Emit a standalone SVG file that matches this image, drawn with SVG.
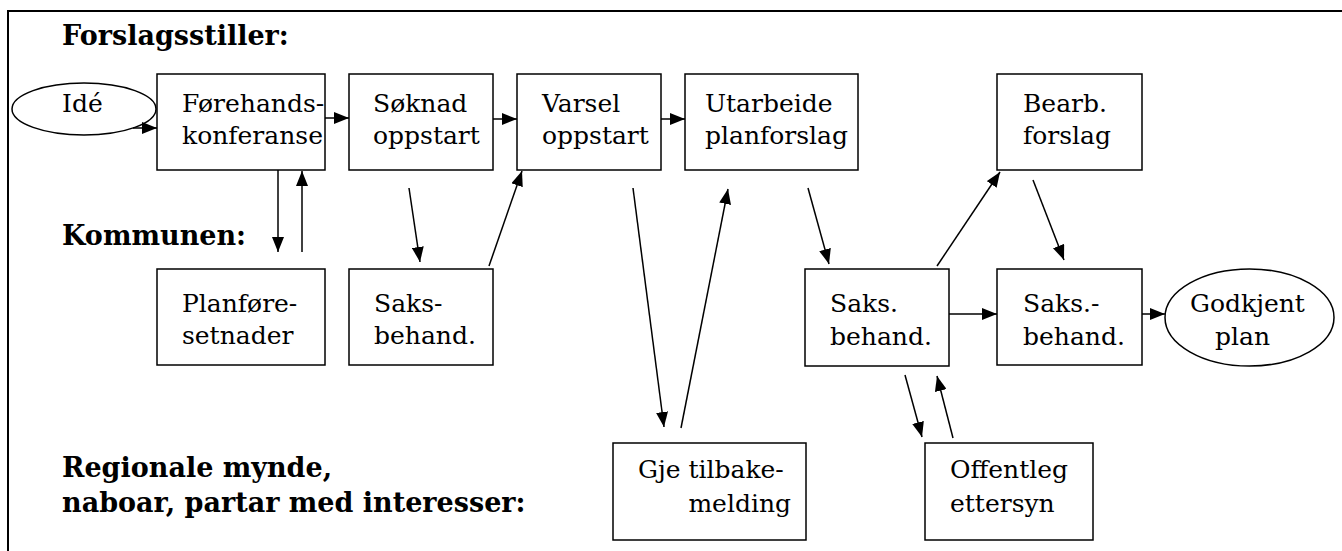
<svg xmlns="http://www.w3.org/2000/svg" width="1342" height="551" viewBox="0 0 1342 551">
<style>
.box{fill:#fff;stroke:#000;stroke-width:1.5}
.t{font-family:"DejaVu Serif","Liberation Serif",serif;font-size:25px;fill:#000}
.h{font-family:"DejaVu Serif","Liberation Serif",serif;font-size:27px;font-weight:bold;fill:#000}
.c{stroke:#000;stroke-width:1.5;fill:none;marker-end:url(#ah)}
</style>
<defs>
<marker id="ah" markerUnits="userSpaceOnUse" markerWidth="15" markerHeight="12" refX="15" refY="6" orient="auto">
<path d="M0,0 L15,6 L0,12 z" fill="#000"/>
</marker>
</defs>
<rect width="1342" height="551" fill="#fff"/>
<path d="M8,551 V11 H1342" fill="none" stroke="#000" stroke-width="2"/>
<g id="lanes">
<text class="h" x="62" y="45">Forslagsstiller:</text>
<text class="h" x="62" y="245">Kommunen:</text>
<text class="h" x="62" y="477">Regionale mynde,</text>
<text class="h" x="62" y="512">naboar, partar med interesser:</text>
</g>
<g id="ide"><ellipse class="box" cx="84" cy="109" rx="72" ry="26"/><text class="t" x="62" y="112">Idé</text></g>
<g id="forehands"><rect class="box" x="157" y="74" width="168" height="96"/><text class="t" x="182" y="112">Førehands-</text><text class="t" x="182" y="144">konferanse</text></g>
<g id="soknad"><rect class="box" x="349" y="74" width="144" height="96"/><text class="t" x="373" y="112">Søknad</text><text class="t" x="373" y="144">oppstart</text></g>
<g id="varsel"><rect class="box" x="517" y="74" width="144" height="96"/><text class="t" x="542" y="112">Varsel</text><text class="t" x="542" y="144">oppstart</text></g>
<g id="utarbeide"><rect class="box" x="685" y="74" width="173" height="96"/><text class="t" x="705" y="112">Utarbeide</text><text class="t" x="705" y="144">planforslag</text></g>
<g id="bearb"><rect class="box" x="997" y="74" width="145" height="96"/><text class="t" x="1023" y="112">Bearb.</text><text class="t" x="1023" y="144">forslag</text></g>
<g id="planfore"><rect class="box" x="157" y="269" width="168" height="96"/><text class="t" x="182" y="312">Planføre-</text><text class="t" x="182" y="344">setnader</text></g>
<g id="saks1"><rect class="box" x="349" y="269" width="144" height="96"/><text class="t" x="374" y="312">Saks-</text><text class="t" x="374" y="344">behand.</text></g>
<g id="saks2"><rect class="box" x="805" y="269" width="144" height="97"/><text class="t" x="830" y="312">Saks.</text><text class="t" x="830" y="345">behand.</text></g>
<g id="saks3"><rect class="box" x="997" y="269" width="145" height="96"/><text class="t" x="1023" y="312">Saks.-</text><text class="t" x="1023" y="345">behand.</text></g>
<g id="godkjent"><ellipse class="box" cx="1249.5" cy="317.5" rx="84.5" ry="48.5"/><text class="t" x="1190" y="312">Godkjent</text><text class="t" x="1215" y="345">plan</text></g>
<g id="gje"><rect class="box" x="613" y="443" width="193" height="97"/><text class="t" x="638" y="478">Gje tilbake-</text><text class="t" x="791" y="512" text-anchor="end">melding</text></g>
<g id="offentleg"><rect class="box" x="925" y="443" width="168" height="97"/><text class="t" x="950" y="478">Offentleg</text><text class="t" x="950" y="512">ettersyn</text></g>
<g id="connectors">
<line class="c" x1="133" y1="128" x2="157" y2="128"/>
<line class="c" x1="325" y1="118" x2="349" y2="118"/>
<line class="c" x1="493" y1="119" x2="517" y2="119"/>
<line class="c" x1="661" y1="119" x2="685" y2="119"/>
<line class="c" x1="278" y1="170" x2="278" y2="252"/>
<line class="c" x1="302" y1="252" x2="302" y2="171"/>
<line class="c" x1="409" y1="188" x2="420" y2="262"/>
<line class="c" x1="489" y1="266" x2="522" y2="171"/>
<line class="c" x1="633" y1="188" x2="664" y2="427"/>
<line class="c" x1="681" y1="428" x2="728" y2="189"/>
<line class="c" x1="808" y1="188" x2="829" y2="264"/>
<line class="c" x1="937" y1="266" x2="1000" y2="172"/>
<line class="c" x1="1033" y1="180" x2="1064" y2="260"/>
<line class="c" x1="949" y1="314" x2="997" y2="314"/>
<line class="c" x1="1142" y1="314" x2="1165" y2="314"/>
<line class="c" x1="905" y1="375" x2="922" y2="437"/>
<line class="c" x1="953" y1="438" x2="937" y2="376"/>
</g>
</svg>
